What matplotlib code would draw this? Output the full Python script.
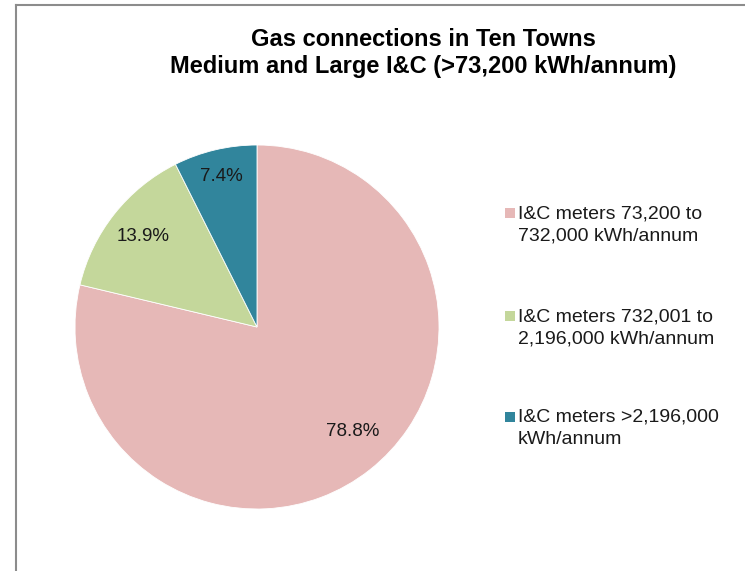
import matplotlib.pyplot as plt
from matplotlib.patches import Rectangle
from matplotlib.lines import Line2D
import numpy as np

plt.rcParams['font.family'] = ['Liberation Sans', 'DejaVu Sans']

# parts des connexions par tranche de consommation
categories = ['I&C meters 73,200 to\n732,000 kWh/annum',
              'I&C meters 732,001 to\n2,196,000 kWh/annum',
              'I&C meters >2,196,000\nkWh/annum']
valeurs = [78.8, 13.9, 7.4]
couleurs = ['#E6B8B7', '#C4D79B', '#31859C']

W, H = 745, 571
fig = plt.figure(figsize=(W / 100, H / 100), dpi=100)

# cadre gris en haut et a gauche
fig.add_artist(Line2D([16 / W, 16 / W], [0, 1 - 5 / H], color='#8c8c8c', lw=1.5))
fig.add_artist(Line2D([16 / W, 1], [1 - 5 / H, 1 - 5 / H], color='#8c8c8c', lw=1.5))

cx, cy, r = 257, 327, 182
ax = fig.add_axes([(cx - r) / W, (H - cy - r) / H, 2 * r / W, 2 * r / H])
wedges, _ = ax.pie(valeurs, colors=couleurs, startangle=90, counterclock=False,
                   radius=1, wedgeprops=dict(edgecolor='white', linewidth=0.6))
ax.set_xlim(-1, 1)
ax.set_ylim(-1, 1)
ax.set_aspect('equal')
ax.axis('off')

# etiquettes de pourcentage placees dans chaque secteur (distance, decalage d'angle)
distances = [0.78, 0.80, 0.85]
decalages = [4, 0, 0]
for w, v, d, da in zip(wedges, valeurs, distances, decalages):
    ang = np.deg2rad((w.theta1 + w.theta2) / 2 + da)
    ax.text(d * np.cos(ang), d * np.sin(ang), f'{v}%', ha='center', va='center',
            fontsize=13.5, color='#1a1a1a')

fig.text(423 / W, 1 - 40 / H, 'Gas connections in Ten Towns', ha='center', va='center',
         fontsize=17, fontweight='bold')
fig.text(423 / W, 1 - 67 / H, 'Medium and Large I&C (>73,200 kWh/annum)', ha='center',
         va='center', fontsize=17, fontweight='bold')

# legende : carre de couleur puis libelle sur deux lignes
lignes_y = [213, 316, 417]
for cat, c, y in zip(categories, couleurs, lignes_y):
    fig.add_artist(Rectangle((505 / W, 1 - (y + 5) / H), 10 / W, 10 / H,
                             facecolor=c, edgecolor='none', transform=fig.transFigure))
    fig.text(518 / W, 1 - (y - 8) / H, cat, ha='left', va='top', fontsize=14,
             linespacing=1.4, color='#1a1a1a')

fig.savefig('out.png', dpi=100)
